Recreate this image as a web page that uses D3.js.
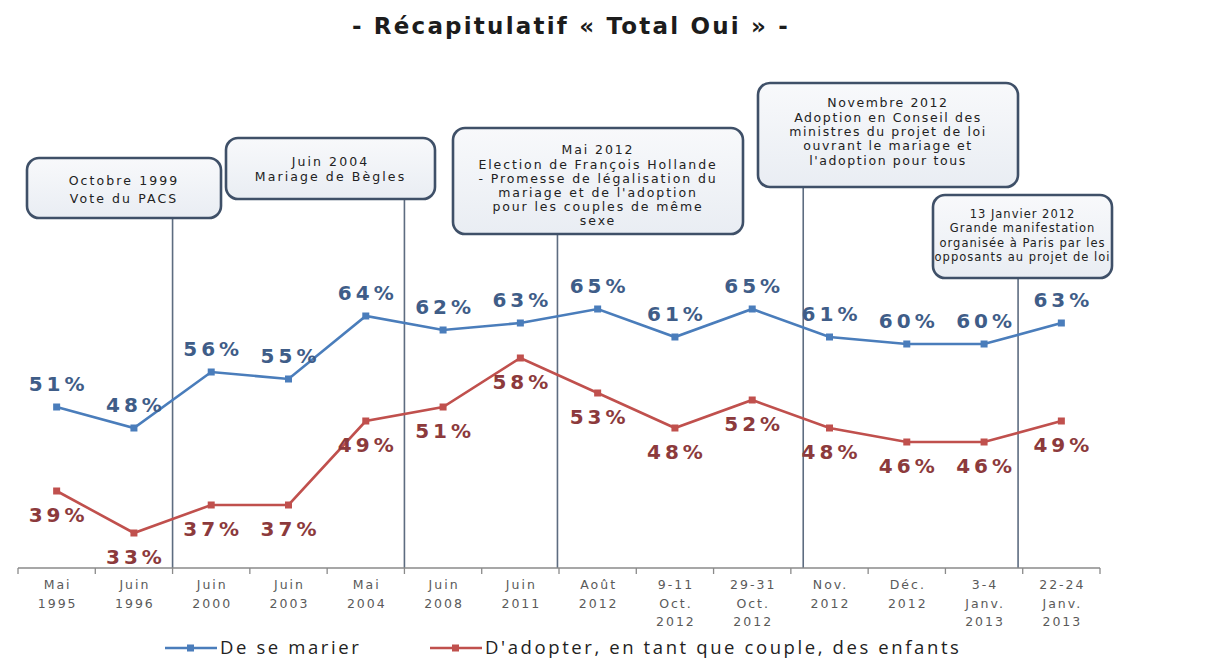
<!DOCTYPE html>
<html>
<head>
<meta charset="utf-8">
<script src="https://cdn.jsdelivr.net/npm/d3@7"></script>
<style>
body { margin: 0; background: #fff; }
svg { display: block; }
</style>
</head>
<body>
<div id="chart"></div>
<script>
// categories (x axis), multi-line labels
var categories = ["Mai\n1995", "Juin\n1996", "Juin\n2000", "Juin\n2003", "Mai\n2004", "Juin\n2008", "Juin\n2011",
  "Août\n2012", "9-11\nOct.\n2012", "29-31\nOct.\n2012", "Nov.\n2012", "Déc.\n2012", "3-4\nJanv.\n2013", "22-24\nJanv.\n2013"];

var marier = [51, 48, 56, 55, 64, 62, 63, 65, 61, 65, 61, 60, 60, 63];
var adopter = [39, 33, 37, 37, 49, 51, 58, 53, 48, 52, 48, 46, 46, 49];

var seriesNames = ["De se marier", "D'adopter, en tant que couple, des enfants"];

// events: position on the category axis (index units) and text
var eventPos = [1.5, 4.5, 6.48, 9.66, 12.44];
var eventText = [
  ["Octobre 1999", "Vote du PACS"],
  ["Juin 2004", "Mariage de Bègles"],
  ["Mai 2012", "Election de François Hollande", "- Promesse de légalisation du", "mariage et de l'adoption", "pour les couples de même", "sexe"],
  ["Novembre 2012", "Adoption en Conseil des", "ministres du projet de loi", "ouvrant le mariage et", "l'adoption pour tous"],
  ["13 Janvier 2012", "Grande manifestation", "organisée à Paris par les", "opposants au projet de loi"]
];

// callout box layout: x0, y0, x1, y1, first line y, line height, font size, letter spacing
var boxLayout = [
  [27, 158, 221, 218, 181, 18, 12.5, 2.1],
  [226, 138, 435, 199, 162, 15, 12.5, 2.1],
  [453, 128, 743, 234, 150, 14.2, 12.5, 1.9],
  [758, 83, 1018, 187, 103, 14.3, 12.5, 1.6],
  [933, 195, 1112, 278, 214, 14.3, 11.5, 1.0]
];

function init() {
  var w = 1210, h = 662;
  var blue = "#4a7dbb", red = "#c0504d";
  var blueText = "#3f5d88", redText = "#8c3a3c";

  var svg = d3.select("#chart").append("svg")
    .attr("width", w)
    .attr("height", h);

  var defs = svg.append("defs");
  var grad = defs.append("linearGradient").attr("id", "boxfill")
    .attr("x1", 0).attr("y1", 0).attr("x2", 0).attr("y2", 1);
  grad.append("stop").attr("offset", "0%").attr("stop-color", "#f8f9fb");
  grad.append("stop").attr("offset", "100%").attr("stop-color", "#e9edf3");

  var x = d3.scaleBand().domain(categories).range([18, 1100]);
  var bw = x.bandwidth();
  var xc = function(i) { return x(categories[i]) + bw / 2; };
  var xi = d3.scaleLinear().domain([0, categories.length - 1]).range([xc(0), xc(categories.length - 1)]);
  var y = d3.scaleLinear().domain([28, 70]).range([568, 274]);

  // title
  svg.append("text")
    .attr("x", 571).attr("y", 34)
    .attr("text-anchor", "middle")
    .style("font-family", "'DejaVu Sans', Verdana, sans-serif")
    .style("font-weight", "bold")
    .style("font-size", "23px")
    .style("letter-spacing", "2.2px")
    .attr("fill", "#1c1c1c")
    .text("- Récapitulatif « Total Oui » -");

  // event lines
  svg.selectAll("line.event")
    .data(eventPos)
    .enter().append("line")
    .attr("class", "event")
    .attr("x1", function(d) { return xi(d); })
    .attr("x2", function(d) { return xi(d); })
    .attr("y1", function(d, i) { return boxLayout[i][3]; })
    .attr("y2", y(28))
    .attr("stroke", "#5d6c80")
    .attr("stroke-width", 1.6);

  // event boxes
  var boxes = svg.selectAll("g.box")
    .data(eventText)
    .enter().append("g")
    .attr("class", "box");

  boxes.append("rect")
    .attr("x", function(d, i) { return boxLayout[i][0]; })
    .attr("y", function(d, i) { return boxLayout[i][1]; })
    .attr("width", function(d, i) { return boxLayout[i][2] - boxLayout[i][0]; })
    .attr("height", function(d, i) { return boxLayout[i][3] - boxLayout[i][1]; })
    .attr("rx", 12)
    .attr("fill", "url(#boxfill)")
    .attr("stroke", "#3f5068")
    .attr("stroke-width", 2.6);

  boxes.each(function(d, i) {
    var b = boxLayout[i];
    d3.select(this).selectAll("text")
      .data(d)
      .enter().append("text")
      .attr("x", (b[0] + b[2]) / 2)
      .attr("y", function(t, j) { return b[4] + j * b[5]; })
      .attr("dy", "0.35em")
      .attr("text-anchor", "middle")
      .style("font-family", "'DejaVu Sans', Verdana, sans-serif")
      .style("font-size", b[6] + "px")
      .style("letter-spacing", b[7] + "px")
      .attr("fill", "#222")
      .text(function(t) { return t; });
  });

  // x axis
  var axis = svg.append("g");
  axis.append("line")
    .attr("x1", x.range()[0]).attr("x2", x.range()[1])
    .attr("y1", y(28)).attr("y2", y(28))
    .attr("stroke", "#8a8a8a").attr("stroke-width", 1.3);

  var tickPos = d3.range(categories.length + 1).map(function(i) { return x.range()[0] + i * bw; });
  axis.selectAll("line.tick")
    .data(tickPos)
    .enter().append("line")
    .attr("class", "tick")
    .attr("x1", function(d) { return d; }).attr("x2", function(d) { return d; })
    .attr("y1", y(28)).attr("y2", y(28) + 6)
    .attr("stroke", "#8a8a8a").attr("stroke-width", 1.3);

  var xl = axis.selectAll("text.xl")
    .data(categories)
    .enter().append("text")
    .attr("class", "xl")
    .attr("text-anchor", "middle")
    .style("font-family", "'DejaVu Sans', Tahoma, sans-serif")
    .style("font-size", "12.5px")
    .style("letter-spacing", "2px")
    .attr("fill", "#5a5a5a");
  xl.each(function(d, i) {
    d3.select(this).selectAll("tspan")
      .data(d.split("\n"))
      .enter().append("tspan")
      .attr("x", xc(i) + 1)
      .attr("y", function(t, j) { return 585 + j * 18.5; })
      .attr("dy", "0.35em")
      .text(function(t) { return t; });
  });

  // series
  var series = [
    { name: seriesNames[0], values: marier, color: blue, textColor: blueText, off: -16 },
    { name: seriesNames[1], values: adopter, color: red, textColor: redText, off: 31 }
  ];

  var line = d3.line()
    .x(function(d, i) { return xc(i); })
    .y(function(d) { return y(d); });

  series.forEach(function(s) {
    svg.append("path")
      .datum(s.values)
      .attr("d", line)
      .attr("fill", "none")
      .attr("stroke", s.color)
      .attr("stroke-width", 2.6);

    svg.selectAll(null)
      .data(s.values)
      .enter().append("rect")
      .attr("x", function(d, i) { return xc(i) - 3.5; })
      .attr("y", function(d) { return y(d) - 3.5; })
      .attr("width", 7).attr("height", 7)
      .attr("fill", s.color);

    svg.selectAll(null)
      .data(s.values)
      .enter().append("text")
      .attr("x", function(d, i) { return xc(i) + 2; })
      .attr("y", function(d) { return y(d) + s.off; })
      .attr("text-anchor", "middle")
      .style("font-family", "'DejaVu Sans', Verdana, sans-serif")
      .style("font-weight", "bold")
      .style("font-size", "20px")
      .style("letter-spacing", "4px")
      .attr("fill", s.textColor)
      .text(function(d) { return d + "%"; });
  });

  // legend
  var legX = [165, 430];
  var leg = svg.selectAll("g.leg")
    .data(series)
    .enter().append("g")
    .attr("class", "leg")
    .attr("transform", function(d, i) { return "translate(" + legX[i] + ",648)"; });
  leg.append("line")
    .attr("x1", 0).attr("x2", 52).attr("y1", 0).attr("y2", 0)
    .attr("stroke", function(d) { return d.color; })
    .attr("stroke-width", 2.6);
  leg.append("rect")
    .attr("x", 22).attr("y", -3.5).attr("width", 7).attr("height", 7)
    .attr("fill", function(d) { return d.color; });
  leg.append("text")
    .attr("x", 55).attr("y", 0).attr("dy", "0.35em")
    .style("font-family", "'Open Sans', 'Liberation Sans', sans-serif")
    .style("font-size", "18.5px")
    .style("letter-spacing", "2.6px")
    .attr("fill", "#222")
    .text(function(d) { return d.name; });
}

window.onload = init;
</script>
</body>
</html>
